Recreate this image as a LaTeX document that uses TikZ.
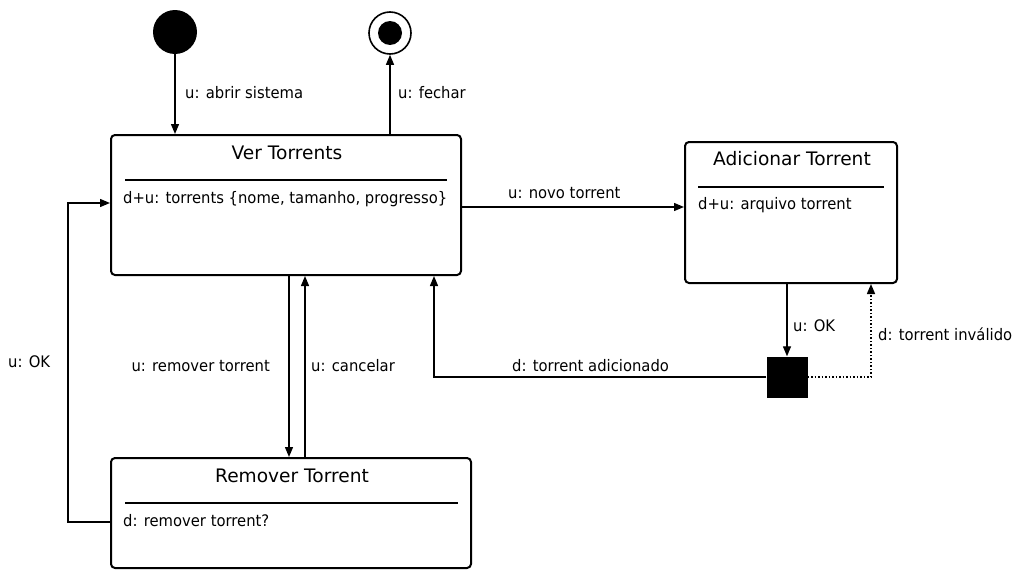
\documentclass[tikz,border=0pt]{standalone}
\usepackage{fontspec}
\setmainfont{DejaVu Sans}
\newfontfamily\lblfont[FakeStretch=0.93]{DejaVu Sans}
\usetikzlibrary{arrows.meta}
\begin{document}
\begin{tikzpicture}[x=1pt,y=-1pt,
  statebox/.style={draw, line width=2pt, rounded corners=4pt, inner sep=0pt},
  title/.style={inner sep=0pt, font=\fontsize{18.6}{22}\selectfont},
  lbl/.style={inner sep=0pt, font=\lblfont\fontsize{15.9}{19}\selectfont, anchor=west},
  sep/.style={line width=1.2pt},
  conn/.style={line width=1.3pt, -{Triangle[length=10pt,width=8pt]}},
  dconn/.style={line width=1.5pt, dotted, -{Triangle[length=10pt,width=8pt]}}]
\useasboundingbox (0,0) rectangle (1013,570);
\fill[white] (0,0) rectangle (1013,570);
% initial and final
\node[circle, fill=black, minimum size=44pt, inner sep=0pt] (init) at (175,32) {};
\node[circle, draw, line width=1.6pt, minimum size=42pt, inner sep=0pt] (final) at (390,33) {};
\node[circle, fill=black, minimum size=24pt, inner sep=0pt] (finalin) at (final.center) {};
% states
\node[statebox, minimum width=350pt, minimum height=140pt] (ver) at (286,205) {};
\node[title] (vert) at (287,153) {Ver Torrents};
\draw[sep] (125,180) -- (447,180);
\node[lbl] (verc) at (123,199) {d+u: torrents \{nome, tamanho, progresso\}};

\node[statebox, minimum width=212pt, minimum height=141pt] (add) at (791,212.5) {};
\node[title] (addt) at (792,159) {Adicionar Torrent};
\draw[sep] (698,187) -- (884,187);
\node[lbl] (addc) at (698,205) {d+u: arquivo torrent};

\node[statebox, minimum width=360pt, minimum height=110pt] (rem) at (291,513) {};
\node[title] (remt) at (292,476) {Remover Torrent};
\draw[sep] (125,503) -- (458,503);
\node[lbl] (remc) at (123,521) {d: remover torrent?};

\node[fill=black, minimum size=41pt, inner sep=0pt] (sq) at (787,377) {};

% connectors
\draw[conn] (init.south) -- (init.south |- ver.north);
\node[lbl] (l1) at (185,93) {u: abrir sistema};
\draw[conn] (final.south |- ver.north) -- (final.south);
\node[lbl] (l2) at (398,93) {u: fechar};
\draw[conn] (ver.east |- 0,207) -- (add.west |- 0,207);
\node[lbl] (l3) at (508,193) {u: novo torrent};
\draw[conn] (sq.north |- add.south) -- (sq.north);
\node[lbl] (l4) at (793,326) {u: OK};
\draw[conn] (sq.west) -| ([xshift=-28pt]ver.south east);
\node[lbl] (l5) at (512,366) {d: torrent adicionado};
\draw[dconn] (sq.east) -| ([xshift=-27pt]add.south east);
\node[lbl] (l6) at (878,334) {d: torrent inválido};
\draw[conn] ([xshift=3pt]ver.south) -- ([xshift=3pt]ver.south |- rem.north);
\node[lbl, anchor=east] (l7) at (270,366) {u: remover torrent};
\draw[conn] ([xshift=19pt]ver.south |- rem.north) -- ([xshift=19pt]ver.south);
\node[lbl] (l8) at (311,366) {u: cancelar};
\draw[conn] (rem.west |- 0,522) -- (68,522) -- (68,203) -- (ver.west |- 0,203);
\node[lbl] (l9) at (8,362) {u: OK};
\end{tikzpicture}
\end{document}
